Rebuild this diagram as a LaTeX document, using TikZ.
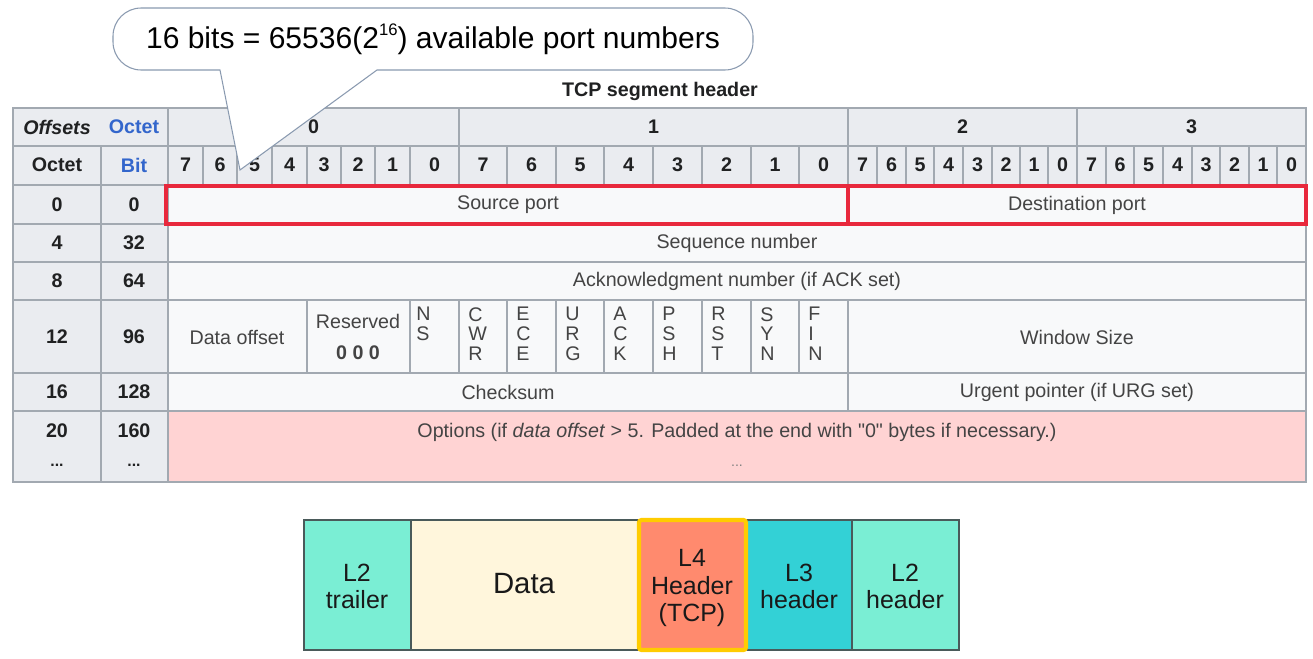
\documentclass[tikz,border=0pt]{standalone}
\usepackage{fontspec}
\setmainfont{Liberation Sans}[Ligatures=TeXOff]

\definecolor{gridgray}{HTML}{A2A9B1}
\definecolor{headgray}{HTML}{EAECF0}
\definecolor{cellwhite}{HTML}{F8F9FA}
\definecolor{headtext}{HTML}{202122}
\definecolor{bodytext}{HTML}{444444}
\definecolor{linkblue}{HTML}{3366CC}
\definecolor{portred}{HTML}{E8283C}
\definecolor{optpink}{HTML}{FFD3D3}
\definecolor{calloutedge}{HTML}{8A9AB0}
\definecolor{boxedge}{HTML}{4A5A5A}
\definecolor{ltwo}{HTML}{7AEED4}
\definecolor{datacream}{HTML}{FFF6DC}
\definecolor{lfour}{HTML}{FF8A6E}
\definecolor{lthree}{HTML}{33D1D6}
\definecolor{tcpyellow}{HTML}{FFCC00}

\tikzset{
  tabline/.style={draw=gridgray, line width=0.6pt},
  headcell/.style={tabline, fill=headgray},
  bodycell/.style={tabline, fill=cellwhite},
  optcell/.style={tabline, fill=optpink},
  hdtext/.style={font=\fontsize{11.2}{13}\selectfont\bfseries, text=headtext, inner sep=0pt},
  bdtext/.style={font=\fontsize{11.2}{13}\selectfont, text=bodytext, inner sep=0pt},
  flagtext/.style={font=\fontsize{11.2}{11.3}\selectfont, text=bodytext, inner sep=0pt, align=left, anchor=north west},
  portbox/.style={draw=portred, line width=2pt},
  callout/.style={draw=calloutedge, fill=white, line width=0.6pt},
  layerbox/.style={draw=boxedge, line width=0.6pt},
  tcpframe/.style={draw=tcpyellow, line width=2.4pt, rounded corners=1.5pt},
  layertext/.style={font=\fontsize{14.2}{15.4}\selectfont, align=center, inner sep=0pt, text=black!90}
}

\begin{document}
\begin{tikzpicture}[x=0.02cm, y=-0.02cm]
  % canvas
  \useasboundingbox (0,0) rectangle (1313,659);
  \fill[white] (0,0) rectangle (1313,659);

  % table title
  \node[hdtext] (title) at (660,91) {TCP segment header};

  % first header row
  \draw[headcell] (13,108) rectangle (168,146);
  \node[hdtext] (offsets) at (57,127) {\itshape Offsets};
  \node[hdtext, text=linkblue] (octettop) at (134,127) {Octet};
  \foreach \xa/\xb/\n in {168/459/0, 459/848/1, 848/1077/2, 1077/1306/3}{
    \draw[headcell] (\xa,108) rectangle (\xb,146);
    \node[hdtext] (oct\n) at ({(\xa+\xb)/2},127) {\n};
  }

  % second header row: bit numbers
  \draw[headcell] (13,146) rectangle (101,185);
  \draw[headcell] (101,146) rectangle (168,185);
  \node[hdtext] (octet) at (57,165) {Octet};
  \node[hdtext, text=linkblue] (bit) at (134,165) {Bit};
  \foreach \xa/\xb/\n [count=\i] in {168/203/7, 203/237/6, 237/272/5, 272/307/4, 307/341/3, 341/375/2, 375/410/1, 410/459/0,
      459/507/7, 507/556/6, 556/604/5, 604/653/4, 653/702/3, 702/751/2, 751/799/1, 799/848/0,
      848/877/7, 877/906/6, 906/934/5, 934/963/4, 963/992/3, 992/1020/2, 1020/1048/1, 1048/1077/0,
      1077/1106/7, 1106/1134/6, 1134/1163/5, 1163/1192/4, 1192/1220/3, 1220/1249/2, 1249/1277/1, 1277/1306/0}{
    \draw[headcell] (\xa,146) rectangle (\xb,185);
    \node[hdtext] (bit\i) at ({(\xa+\xb)/2},165) {\n};
  }

  % offsets on the left
  \foreach \ya/\yb/\oc/\bt in {185/224/0/0, 224/262/4/32, 262/300/8/64, 300/373/12/96, 373/411/16/128}{
    \draw[headcell] (13,\ya) rectangle (101,\yb);
    \draw[headcell] (101,\ya) rectangle (168,\yb);
    \node[hdtext] (oc\oc) at (57,{(\ya+\yb)/2}) {\oc};
    \node[hdtext] (bt\bt) at (134,{(\ya+\yb)/2}) {\bt};
  }
  \draw[headcell] (13,411) rectangle (101,482);
  \draw[headcell] (101,411) rectangle (168,482);
  \node[hdtext] (oc20) at (57,431) {20};
  \node[hdtext, font=\fontsize{9}{10}\selectfont\bfseries] (ocdots) at (57,465) {...};
  \node[hdtext] (bt160) at (134,431) {160};
  \node[hdtext, font=\fontsize{9}{10}\selectfont\bfseries] (btdots) at (134,465) {...};

  % ports
  \draw[bodycell] (168,185) rectangle (848,224);
  \draw[bodycell] (848,185) rectangle (1306,224);
  \node[bdtext] (srcport) at (508,205) {Source port};
  \node[bdtext] (dstport) at (1077,205) {Destination port};

  % sequence and acknowledgment
  \draw[bodycell] (168,224) rectangle (1306,262);
  \node[bdtext] (seq) at (737,243) {Sequence number};
  \draw[bodycell] (168,262) rectangle (1306,300);
  \node[bdtext] (ack) at (737,281) {Acknowledgment number (if ACK set)};

  % data offset, reserved and flags
  \draw[bodycell] (168,300) rectangle (307,373);
  \node[bdtext] (dataoff) at (237,337) {Data offset};
  \draw[bodycell] (307,300) rectangle (410,373);
  \node[bdtext] (reserved) at (358,321) {Reserved};
  \node[hdtext, text=bodytext] (zeros) at (358,353) {0 0 0};
  \draw[bodycell] (410,300) rectangle (459,373);
  \node[flagtext] (ns) at (416,307) {N\\S};
  \foreach \xa/\xb/\fl in {459/507/{C\\W\\R}, 507/556/{E\\C\\E}, 556/604/{U\\R\\G}, 604/653/{A\\C\\K},
      653/702/{P\\S\\H}, 702/751/{R\\S\\T}, 751/799/{S\\Y\\N}, 799/848/{F\\I\\N}}{
    \draw[bodycell] (\xa,300) rectangle (\xb,373);
    \node[flagtext] (flag\xa) at (\xa+9,307) {\fl};
  }
  \draw[bodycell] (848,300) rectangle (1306,373);
  \node[bdtext] (window) at (1077,337) {Window Size};

  % checksum and urgent pointer
  \draw[bodycell] (168,373) rectangle (848,411);
  \node[bdtext] (checksum) at (508,392) {Checksum};
  \draw[bodycell] (848,373) rectangle (1306,411);
  \node[bdtext] (urgent) at (1077,392) {Urgent pointer (if URG set)};

  % options
  \draw[optcell] (168,411) rectangle (1306,482);
  \node[bdtext] (options) at (737,432) {Options (if \textit{data offset} > 5. Padded at the end with "0" bytes if necessary.)};
  \node[bdtext, text=gray, font=\fontsize{8}{9}\selectfont] (optdots) at (737,466) {...};

  % highlight the port fields
  \draw[portbox] (166,186) rectangle (848,224);
  \draw[portbox] (848,186) rectangle (1306,224);

  % callout
  \draw[callout] (220,70) -- (240,170) -- (377,70) [rounded corners=16] -- (753,70) -- (753,8) -- (113,8) -- (113,70) [sharp corners] -- cycle;
  \node[font=\fontsize{17.1}{20}\selectfont, inner sep=0pt] (note) at (433,39) {16 bits = 65536(2\raisebox{0.8ex}{\fontsize{9.5}{10}\selectfont 16}) available port numbers};

  % frame layers
  \draw[layerbox, fill=ltwo] (304,520) rectangle (411,650);
  \draw[layerbox, fill=datacream] (411,520) rectangle (638,650);
  \draw[layerbox, fill=lfour] (638,520) rectangle (747,650);
  \draw[layerbox, fill=lthree] (747,520) rectangle (852,650);
  \draw[layerbox, fill=ltwo] (852,520) rectangle (959,650);
  \draw[tcpframe] (639,520) rectangle (746,650);
  \node[layertext] (ltrailer) at (357,586) {L2\\trailer};
  \node[layertext, font=\fontsize{16.7}{18}\selectfont] (data) at (524,584) {Data};
  \node[layertext] (lfourhdr) at (692,588) {L4\\Header\\(TCP)};
  \node[layertext] (lthreehdr) at (799,586) {L3\\header};
  \node[layertext] (ltwohdr) at (905,586) {L2\\header};
\end{tikzpicture}
\end{document}
